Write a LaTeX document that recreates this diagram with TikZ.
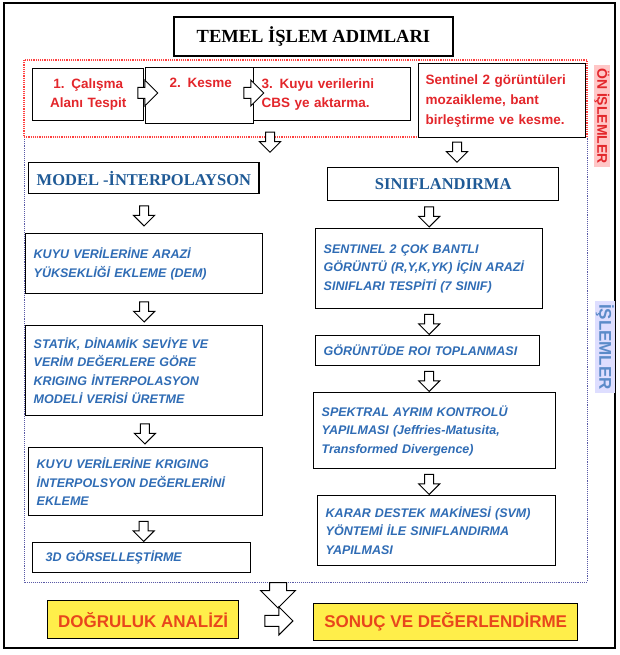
\documentclass[tikz,border=0pt]{standalone}
\usepackage{fontspec}
\setmainfont{Liberation Serif}
\newfontfamily\arialf{Liberation Sans}
\usetikzlibrary{shapes.arrows,calc}

\definecolor{prered}{HTML}{E3262B}
\definecolor{stepblue}{HTML}{2F6CB5}
\definecolor{headblue}{HTML}{1F5A96}
\definecolor{sideblue}{HTML}{5B8BC9}
\definecolor{glowyellow}{HTML}{FFEE4A}
\definecolor{glowred}{HTML}{E8461C}

\begin{document}
\begin{tikzpicture}[
    x=1pt, y=-1pt,
    box/.style={draw=black, line width=1.4pt, fill=white, anchor=north west, inner xsep=8pt, inner ysep=0pt},
    prebox/.style={box, font=\arialf\bfseries\fontsize{13.5}{19}\selectfont, text=prered},
    stepbox/.style={box, align=left, font=\arialf\bfseries\itshape\fontsize{12.5}{18.5}\selectfont, text=stepblue},
    headbox/.style={box, font=\bfseries\fontsize{16.5}{18}\selectfont, text=headblue},
    endbox/.style={box, fill=glowyellow, font=\arialf\bfseries\fontsize{17}{19}\selectfont, text=glowred},
    darr/.style={single arrow, draw=black, line width=1pt, fill=white, minimum height=20pt, inner sep=4pt, single arrow head extend=6pt, single arrow head indent=0pt, shape border rotate=270},
    rarr/.style={darr, inner sep=5pt, single arrow head extend=7.5pt, shape border rotate=0},
    sidelabel/.style={rotate=-90, inner xsep=3pt, inner ysep=1pt},
  ]
  \useasboundingbox[fill=white] (0,0) rectangle (620,655);
  \draw[line width=2pt] (4,3) rectangle (615,648);

  % Frames
  \draw[densely dotted, line width=0.9pt, gray!70!blue] (24,137) -- (24,582) -- (587,582) -- (587,137);
  \draw[densely dotted, line width=1.2pt, red!75] (24,60) rectangle (587,137);

  % Title
  \node[box, line width=1.8pt, font=\bfseries\fontsize{18.5}{20}\selectfont, minimum width=279pt, minimum height=39pt] (title) at (173,16) {TEMEL İŞLEM ADIMLARI};

  % On islemler
  \node[prebox, align=center, text width=95pt, minimum height=52pt] (calisma) at (32,68) {1. Çalışma\\Alanı Tespit};
  \node[prebox, align=left, text width=92pt, minimum height=56pt] (kesme) at (145,67) {\hspace*{16pt}2. Kesme\\[6pt]\mbox{}};
  \node[prebox, align=left, text width=141pt, minimum height=53pt] (aktarma) at (253,67) {3. Kuyu verilerini\\CBS ye aktarma.};
  \node[prebox, align=left, text width=153pt, minimum height=74pt, inner xsep=7pt, font=\arialf\bfseries\fontsize{13.5}{20}\selectfont] (mozaik) at (418,63) {Sentinel 2 görüntüleri\\mozaikleme, bant\\birleştirme ve kesme.};

  % Model - interpolasyon
  \node[headbox, minimum width=230pt, minimum height=31pt] (model) at (28,162) {MODEL -İNTERPOLAYSON};
  \node[stepbox, text width=221pt, minimum height=60pt] (dem) at (25,233) {KUYU VERİLERİNE ARAZİ\\YÜKSEKLİĞİ EKLEME (DEM)};
  \node[stepbox, text width=221pt, minimum height=90pt] (statik) at (25,325) {STATİK, DİNAMİK SEVİYE VE\\VERİM DEĞERLERE GÖRE\\KRIGING İNTERPOLASYON\\MODELİ VERİSİ ÜRETME};
  \node[stepbox, text width=218pt, minimum height=68pt] (kriging) at (28,447) {KUYU VERİLERİNE KRIGING\\İNTERPOLSYON DEĞERLERİNİ\\EKLEME};
  \node[stepbox, text width=202pt, minimum height=30pt] (gorsel) at (32,542) {\hspace*{5pt}3D GÖRSELLEŞTİRME};

  % Siniflandirma
  \node[headbox, minimum width=231pt, minimum height=33pt] (sinif) at (327,167) {SINIFLANDIRMA};
  \node[stepbox, text width=211pt, minimum height=80pt] (sentinel) at (315,228) {SENTINEL 2 ÇOK BANTLI\\GÖRÜNTÜ (R,Y,K,YK) İÇİN ARAZİ\\SINIFLARI TESPİTİ (7 SINIF)};
  \node[stepbox, text width=208pt, minimum height=30pt] (roi) at (315,335) {GÖRÜNTÜDE ROI TOPLANMASI};
  \node[stepbox, text width=226pt, minimum height=76pt] (spektral) at (313,392) {SPEKTRAL AYRIM KONTROLÜ\\YAPILMASI (Jeffries-Matusita,\\Transformed Divergence)};
  \node[stepbox, text width=222pt, minimum height=70pt] (karar) at (317,495) {KARAR DESTEK MAKİNESİ (SVM)\\YÖNTEMİ İLE SINIFLANDIRMA\\YAPILMASI};

  % Sonuc
  \node[endbox, minimum width=191pt, minimum height=38pt] (dogruluk) at (47,600) {DOĞRULUK ANALİZİ};
  \node[endbox, minimum width=264pt, minimum height=37pt] (sonuc) at (313,603) {SONUÇ VE DEĞERLENDİRME};

  % Side labels
  \node[sidelabel, fill=red!22, text=prered, font=\arialf\bfseries\fontsize{14}{16}\selectfont] (onlab) at (602,116) {ÖN İŞLEMLER};
  \node[sidelabel, fill=blue!13, text=sideblue, font=\arialf\bfseries\fontsize{17}{19}\selectfont] (islab) at (605,347) {İŞLEMLER};

  % Block arrows
  \node[rarr] (ra1) at (145,93) {};
  \node[rarr] (ra2) at (251,93) {};
  \node[darr] (da1) at (270,140) {};
  \node[darr] (da2) at (457,150) {};
  \node[darr] (ma1) at ($(model.south)!.5!(dem.north)$) {};
  \node[darr] (ma2) at ($(dem.south)!.5!(statik.north)$) {};
  \node[darr] (ma3) at ($(statik.south)!.5!(kriging.north)$) {};
  \node[darr] (ma4) at ($(kriging.south)!.5!(gorsel.north)$) {};
  \node[darr] (sa1) at ($(sentinel.north |- sinif.south)!.5!(sentinel.north)$) {};
  \node[darr] (sa2) at ($(sentinel.south)!.5!(sentinel.north |- roi.north)$) {};
  \node[darr] (sa3) at ($(sentinel.north |- roi.south)!.5!(sentinel.north |- spektral.north)$) {};
  \node[darr] (sa4) at ($(sentinel.north |- spektral.south)!.5!(sentinel.north |- karar.north)$) {};
  \node[darr, minimum height=22pt, inner sep=8pt, single arrow head extend=9pt] (bigarr) at (278,591) {};
  \node[rarr, minimum height=28pt, single arrow head extend=8.5pt] (ra3) at ($(dogruluk.east)!.5!(sonuc.west)$) {};
\end{tikzpicture}
\end{document}
